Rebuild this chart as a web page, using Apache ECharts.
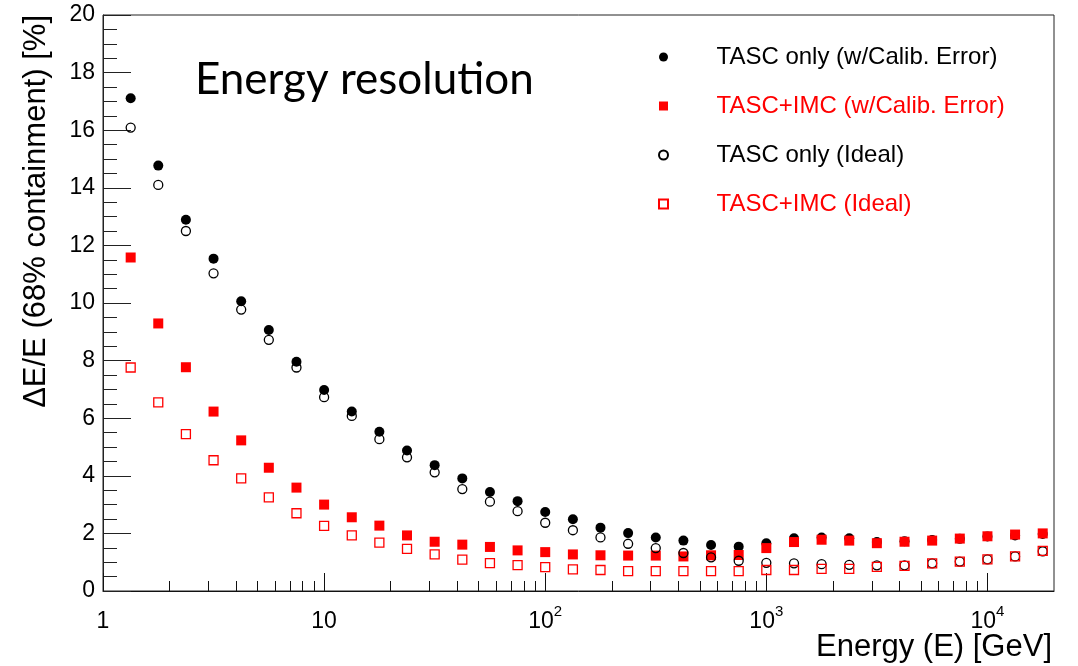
<!DOCTYPE html>
<html>
<head>
<meta charset="utf-8">
<script src="https://cdn.jsdelivr.net/npm/echarts@6/dist/echarts.min.js"></script>
<style>html,body{margin:0;padding:0;background:#fff}#c{width:1078px;height:666px}</style>
</head>
<body>
<div id="c"></div>
<script>
// Energy [GeV] (bin positions, 8 per decade)
const energies = [1.334, 1.778, 2.371, 3.162, 4.217, 5.623, 7.499, 10.0,
  13.34, 17.78, 23.71, 31.62, 42.17, 56.23, 74.99, 100.0,
  133.4, 177.8, 237.1, 316.2, 421.7, 562.3, 749.9, 1000,
  1334, 1778, 2371, 3162, 4217, 5623, 7499, 10000, 13335, 17783];

const seriesNames = ['TASC only (w/Calib. Error)', 'TASC+IMC (w/Calib. Error)', 'TASC only (Ideal)', 'TASC+IMC (Ideal)'];

const tascCalib = [17.11, 14.77, 12.89, 11.54, 10.06, 9.06, 7.96, 6.98,
  6.23, 5.53, 4.88, 4.37, 3.91, 3.44, 3.12, 2.74,
  2.49, 2.20, 2.01, 1.86, 1.75, 1.60, 1.54, 1.66,
  1.83, 1.86, 1.83, 1.70, 1.73, 1.77, 1.81, 1.89, 1.93, 1.98];

const imcCalib = [11.58, 9.29, 7.77, 6.23, 5.23, 4.28, 3.59, 3.00,
  2.56, 2.27, 1.93, 1.71, 1.61, 1.53, 1.41, 1.35,
  1.27, 1.24, 1.23, 1.23, 1.20, 1.24, 1.25, 1.49,
  1.70, 1.78, 1.75, 1.66, 1.71, 1.75, 1.82, 1.90, 1.96, 2.00];

const tascIdeal = [16.09, 14.10, 12.50, 11.03, 9.77, 8.72, 7.76, 6.73,
  6.08, 5.27, 4.64, 4.12, 3.54, 3.10, 2.77, 2.37,
  2.11, 1.86, 1.64, 1.49, 1.32, 1.17, 1.05, 0.98,
  0.96, 0.93, 0.91, 0.89, 0.89, 0.96, 1.02, 1.10, 1.20, 1.38];

const imcIdeal = [7.76, 6.55, 5.45, 4.54, 3.91, 3.25, 2.70, 2.26,
  1.93, 1.68, 1.46, 1.27, 1.09, 0.97, 0.90, 0.83,
  0.75, 0.73, 0.69, 0.69, 0.69, 0.69, 0.69, 0.73,
  0.73, 0.77, 0.77, 0.84, 0.87, 0.96, 1.02, 1.10, 1.20, 1.39];

const xMajorTicks = [1, 10, 100, 1000, 10000];
const xMinorTicks = [2,3,4,5,6,7,8,9, 20,30,40,50,60,70,80,90,
  200,300,400,500,600,700,800,900, 2000,3000,4000,5000,6000,7000,8000,9000];

const titleText = 'Energy resolution';
const xTitle = 'Energy (E) [GeV]';
const yTitle = 'ΔE/E (68% containment) [%]';

const FONT = 'Liberation Sans';
const RED = '#ff0000';
const SQUARE_ICON = 'path://M0 0H10V10H0Z';

function pairs(vals) { return energies.map((e, i) => [e, vals[i]]); }

const chart = echarts.init(document.getElementById('c'), null, {renderer: 'canvas'});

const labelRich = {
  b: {fontSize: 23, fontFamily: FONT, color: '#000', padding: [6, 0, 0, 0]},
  s: {fontSize: 15, fontFamily: FONT, color: '#000', verticalAlign: 'top'}
};

chart.setOption({
  animation: false,
  backgroundColor: '#fff',
  title: {
    text: titleText, left: 190, top: 53,
    textStyle: {fontFamily: 'Lato', fontSize: 44, fontWeight: 'normal', color: '#000'}
  },
  grid: {left: 103, right: 24, top: 15, bottom: 75, show: true, borderColor: '#222', borderWidth: 1, backgroundColor: 'transparent'},
  legend: {
    orient: 'vertical', left: 653, top: 40,
    itemWidth: 96, itemHeight: 9, itemGap: 25,
    symbolKeepAspect: true,
    textStyle: {fontFamily: FONT, fontSize: 24, color: '#000'},
    data: [
      {name: seriesNames[0], icon: 'circle', textStyle: {color: '#000'}},
      {name: seriesNames[1], icon: SQUARE_ICON, textStyle: {color: RED}},
      {name: seriesNames[2], icon: 'circle', textStyle: {color: '#000'}},
      {name: seriesNames[3], icon: SQUARE_ICON, textStyle: {color: RED}}
    ],
    selectedMode: false
  },
  xAxis: [{
    type: 'log', logBase: 10, min: 1, max: 20000,
    axisLine: {show: true, lineStyle: {color: '#111', width: 1}},
    axisTick: {show: true, inside: true, length: 18, customValues: xMajorTicks, lineStyle: {color: '#111'}},
    axisLabel: {
      show: true, margin: 13, customValues: xMajorTicks,
      formatter: function (v) {
        const p = Math.round(Math.log10(v));
        if (p <= 1) return '{b|' + (p === 0 ? '1' : '10') + '}';
        return '{b|10}{s|' + p + '}';
      },
      rich: labelRich
    },
    splitLine: {show: false}, minorTick: {show: false}
  }, {
    type: 'log', logBase: 10, min: 1, max: 20000, position: 'bottom',
    axisLine: {show: false},
    axisTick: {show: true, inside: true, length: 10, customValues: xMinorTicks, lineStyle: {color: '#111'}},
    axisLabel: {show: false},
    splitLine: {show: false}
  }],
  yAxis: {
    type: 'value', min: 0, max: 20, interval: 2,
    axisLine: {show: true, lineStyle: {color: '#222', width: 1}},
    axisTick: {show: true, inside: true, length: 28, lineStyle: {color: '#222'}},
    minorTick: {show: true, splitNumber: 4, length: 14, lineStyle: {color: '#222'}},
    axisLabel: {fontFamily: FONT, fontSize: 23, color: '#000', margin: 8},
    splitLine: {show: false}
  },
  graphic: [
    {type: 'text', x: 1052, y: 647, style: {text: xTitle, font: '31px "Liberation Sans"', fill: '#000', textAlign: 'right', textVerticalAlign: 'middle'}},
    {type: 'text', x: 36, y: 15, rotation: Math.PI / 2, style: {text: yTitle, font: '31px "Liberation Sans"', fill: '#000', textAlign: 'right', textVerticalAlign: 'middle'}}
  ],
  series: [
    {name: seriesNames[0], type: 'scatter', data: pairs(tascCalib), symbol: 'circle', symbolSize: 10,
      itemStyle: {color: '#000', opacity: 1}, z: 2},
    {name: seriesNames[1], type: 'scatter', data: pairs(imcCalib), symbol: 'rect', symbolSize: 10,
      itemStyle: {color: RED, opacity: 1}, z: 3},
    {name: seriesNames[2], type: 'scatter', data: pairs(tascIdeal), symbol: 'circle', symbolSize: 9,
      itemStyle: {color: 'rgba(0,0,0,0)', borderColor: '#000', borderWidth: 1.3, opacity: 1}, z: 4},
    {name: seriesNames[3], type: 'scatter', data: pairs(imcIdeal), symbol: 'rect', symbolSize: 9,
      itemStyle: {color: 'rgba(0,0,0,0)', borderColor: RED, borderWidth: 1.3, opacity: 1}, z: 5}
  ]
});
</script>
</body>
</html>
